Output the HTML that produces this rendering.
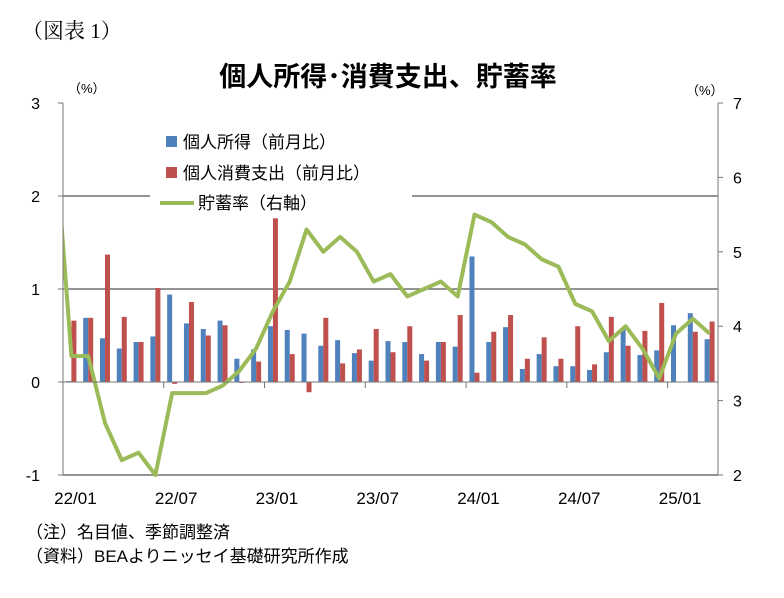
<!DOCTYPE html>
<html><head><meta charset="utf-8"><style>
body{margin:0;background:#fff;width:784px;height:593px;overflow:hidden;font-family:"Liberation Sans","Noto Sans CJK JP",sans-serif}
</style></head><body>
<svg id="c" width="784" height="593" xmlns="http://www.w3.org/2000/svg" font-family="Liberation Sans, Noto Sans CJK JP, sans-serif">
<text x="22" y="38" font-size="21" font-family="Liberation Serif, Noto Serif CJK SC, serif">（図表 1）</text>
<text x="388" y="86" font-size="27" font-weight="bold" text-anchor="middle">個人所得･消費支出、貯蓄率</text>
<text x="68" y="93" font-size="13">（%）</text>
<text x="686" y="95" font-size="13">（%）</text>
<defs><clipPath id="pc"><rect x="63" y="100" width="655" height="380"/></clipPath></defs>
<g id="grid"></g>
<g id="bars"></g>
<g id="line" clip-path="url(#pc)"></g>
<g id="axes"></g>
<g>
<rect x="150" y="128" width="262" height="88" fill="#fff"/>
<rect x="166" y="136" width="11" height="11" fill="#4f81bd"/>
<text x="183" y="148" font-size="17">個人所得（前月比）</text>
<rect x="166" y="167" width="11" height="11" fill="#c0504d"/>
<text x="183" y="179" font-size="17">個人消費支出（前月比）</text>
<line x1="160" y1="203" x2="194" y2="203" stroke="#9bbb59" stroke-width="4"/>
<text x="198" y="209" font-size="17">貯蓄率（右軸）</text>
</g>
<text x="26" y="538" font-size="17">（注）名目値、季節調整済</text>
<text x="26" y="562" font-size="17">（資料）BEAよりニッセイ基礎研究所作成</text>
</svg>
<script>
const income=[0.01,0.69,0.47,0.36,0.43,0.49,0.94,0.63,0.57,0.66,0.25,0.35,0.60,0.56,0.52,0.39,0.45,0.31,0.23,0.44,0.43,0.30,0.43,0.38,1.35,0.43,0.59,0.14,0.30,0.17,0.17,0.13,0.32,0.57,0.29,0.34,0.61,0.74,0.46];
const consumption=[0.66,0.69,1.37,0.70,0.43,1.01,-0.02,0.86,0.50,0.61,-0.01,0.22,1.76,0.30,-0.11,0.69,0.20,0.35,0.57,0.32,0.60,0.23,0.43,0.72,0.10,0.54,0.72,0.25,0.48,0.25,0.60,0.19,0.70,0.39,0.55,0.85,0,0.54,0.65];
const savingsPrev=6.6;
const savings=[3.6,3.6,2.7,2.2,2.3,2.0,3.1,3.1,3.1,3.2,3.4,3.7,4.2,4.6,5.3,5.0,5.2,5.0,4.6,4.7,4.4,4.5,4.6,4.4,5.5,5.4,5.2,5.1,4.9,4.8,4.3,4.2,3.8,4.0,3.7,3.3,3.9,4.1,3.9];
const leftTicks=[3,2,1,0,-1];
const rightTicks=[7,6,5,4,3,2];
const xLabels=["22/01","22/07","23/01","23/07","24/01","24/07","25/01"];
const xLabelIdx=[0,6,12,18,24,30,36];
const NS="http://www.w3.org/2000/svg";
const X0=63,X1=718,Y0=103,Y1=475,N=savings.length,SW=(X1-X0)/N;
const yL=v=>Y0+(3-v)*(Y1-Y0)/4;
const yR=v=>Y0+(7-v)*(Y1-Y0)/5;
const xc=i=>X0+SW*(i+0.5);
function mk(t,a,p){const e=document.createElementNS(NS,t);for(const k in a)e.setAttribute(k,a[k]);p.appendChild(e);return e;}
const grid=document.getElementById('grid'),bars=document.getElementById('bars'),line=document.getElementById('line'),axes=document.getElementById('axes');
[2,1,-1].forEach(v=>{const l=mk('line',{x1:X0,x2:X1,y1:yL(v),y2:yL(v),stroke:'#555','stroke-width':1.2},grid);

});
income.forEach((v,i)=>{const y=Math.min(yL(v),yL(0));const r=mk('rect',{x:xc(i)-5,y:y,width:5,height:Math.abs(yL(v)-yL(0)),fill:'#4f81bd'},bars);

});
consumption.forEach((v,i)=>{const y=Math.min(yL(v),yL(0));const r=mk('rect',{x:xc(i),y:y,width:5,height:Math.abs(yL(v)-yL(0)),fill:'#c0504d'},bars);

});
let d='M'+xc(-1)+','+yR(savingsPrev);
savings.forEach((v,i)=>{d+=' L'+xc(i)+','+yR(v);});
const p=mk('path',{d:d,fill:'none',stroke:'#9bbb59','stroke-width':4,'stroke-linejoin':'round'},line);


mk('line',{x1:X0,x2:X0,y1:Y0,y2:Y1,stroke:'#777'},axes);
mk('line',{x1:X1,x2:X1,y1:Y0,y2:Y1,stroke:'#777'},axes);
mk('line',{x1:X0,x2:X1,y1:yL(0),y2:yL(0),stroke:'#777'},axes);
leftTicks.forEach(v=>{mk('line',{x1:X0-5,x2:X0,y1:yL(v),y2:yL(v),stroke:'#777'},axes);
const t=mk('text',{x:40,y:yL(v)+6,'font-size':16,'text-anchor':'end'},axes);t.textContent=v;

});
rightTicks.forEach(v=>{mk('line',{x1:X1,x2:X1+5,y1:yR(v),y2:yR(v),stroke:'#777'},axes);
const t=mk('text',{x:733,y:yR(v)+6,'font-size':16},axes);t.textContent=v;

});
for(let k=0;k<=N;k+=6){mk('line',{x1:X0+SW*k,x2:X0+SW*k,y1:yL(0),y2:yL(0)+6,stroke:'#777'},axes);}
xLabels.forEach((s,j)=>{const t=mk('text',{x:xc(xLabelIdx[j])+4,y:504,'font-size':17,'text-anchor':'middle'},axes);t.textContent=s;

});
</script>
</body></html>
